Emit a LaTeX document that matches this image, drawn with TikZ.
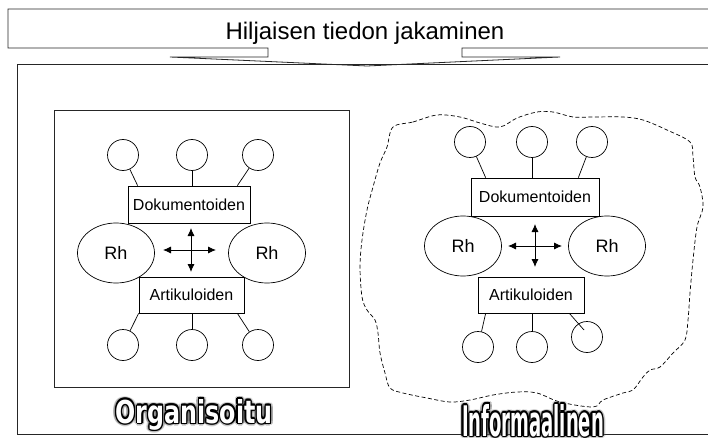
\documentclass[tikz,border=0pt]{standalone}
\usepackage{fontspec}
\usepackage{graphicx}
\setmainfont{Liberation Sans}
\newfontfamily\heavyfont{DejaVu Sans}
\usetikzlibrary{arrows.meta,calc,shapes.geometric}
\newcommand\orgword{\resizebox{157pt}{24pt}{\heavyfont\bfseries Organisoitu}}
\newcommand\infword{\resizebox{142pt}{32pt}{\heavyfont\bfseries Informaalinen}}
\begin{document}
\begin{tikzpicture}[x=1pt,y=-1pt,
  frame/.style={draw=black!85, line width=0.8pt},
  circ/.style={circle, draw, minimum size=31pt, inner sep=0pt, line width=0.7pt},
  lbl/.style={draw, rectangle, inner sep=0pt, line width=0.7pt, font=\fontsize{16}{18}\selectfont},
  rh/.style={ellipse, draw, inner sep=0pt, minimum width=77pt, minimum height=60pt, line width=0.7pt, font=\fontsize{18}{20}\selectfont},
  link/.style={draw, line width=0.7pt},
  xarrow/.style={{Latex[length=8pt,width=7pt]}-{Latex[length=8pt,width=7pt]}, line width=0.8pt},
  cloud/.style={draw, line width=0.7pt, dash pattern=on 4pt off 2.5pt},
  glow/.style={text=black!60, opacity=0.25, inner sep=0pt},
  rim/.style={text=black, inner sep=0pt},
  face/.style={text=white, inner sep=0pt}]
\useasboundingbox (0,0) rectangle (708,438);
\fill[white] (0,0) rectangle (708,438);

% title callout
\draw[frame] (708,9) -- (8,9) -- (8,48) -- (268,48) -- (268,57) -- (170,57) -- (367,66)
  -- (560,57) -- (462,57) -- (462,48) -- (708,48);
\node[anchor=base, font=\fontsize{24}{28}\selectfont] (title) at (365,40) {Hiljaisen tiedon jakaminen};

% main frame
\draw[frame] (708,64) -- (17,64) -- (17,434) -- (708,434);

% ===== left panel =====
\node[frame, rectangle, minimum width=295pt, minimum height=277pt, inner sep=0pt] (orgbox) at (201.5,248.5) {};
\node[circ] (lt1) at (123,155) {};
\node[circ] (lt2) at (192,155) {};
\node[circ] (lt3) at (258,155) {};
\node[lbl, minimum width=122pt, minimum height=37pt] (dok1) at (189,204.5) {Dokumentoiden};
\node[rh] (le1) at (116,253) {Rh};
\node[rh] (le2) at (267,253) {Rh};
\node[lbl, minimum width=105pt, minimum height=36pt] (art1) at (191.5,295) {Artikuloiden};
\node[circ] (lb1) at (123,345) {};
\node[circ] (lb2) at (192,345) {};
\node[circ] (lb3) at (258,345) {};
\draw[link] (lt1) -- ($(dok1.north west)+(10,0)$);
\draw[link] (lt2) -- ($(dok1.north)+(3,0)$);
\draw[link] (lt3) -- ($(dok1.north east)+(-13,0)$);
\draw[link] (art1.south west) -- (lb1);
\draw[link] ($(art1.south)+(0.5,0)$) -- (lb2);
\draw[link] ($(art1.south east)+(-7,0)$) -- (lb3);
\coordinate (lh1) at (163,250);
\coordinate (lh2) at (216,250);
\coordinate (lv1) at (191,228);
\coordinate (lv2) at (191,272);
\draw[xarrow] (lh1) -- (lh2);
\draw[xarrow] (lv1) -- (lv2);

% ===== right panel =====
\draw[cloud] plot[smooth cycle, tension=0.55] coordinates {
 (393,127) (413,122) (437,115) (460,117) (480,123) (500,127) (517,118) (537,112)
 (553,112) (573,117) (593,117) (623,117) (643,120) (667,130) (690,142) (693,157)
 (695,177) (700,187) (703,207) (697,227) (693,260) (690,293) (688,320) (685,340)
 (673,353) (660,367) (650,370) (643,377) (633,390) (623,393) (603,400) (593,407)
 (560,402) (537,393) (517,392) (493,395) (470,400) (450,402) (427,398) (403,393)
 (390,388) (385,373) (380,353) (378,333) (375,320) (367,310) (362,297) (360,267)
 (362,240) (367,210) (373,187) (380,163) (387,147)};
\node[circ] (rt1) at (470,142) {};
\node[circ] (rt2) at (532,142) {};
\node[circ] (rt3) at (592,142) {};
\node[lbl, minimum width=128pt, minimum height=38pt] (dok2) at (535,197) {Dokumentoiden};
\node[rh] (re1) at (463,246) {Rh};
\node[rh] (re2) at (607,246) {Rh};
\node[lbl, minimum width=106pt, minimum height=36pt] (art2) at (531,295) {Artikuloiden};
\node[circ] (rb1) at (478,347) {};
\node[circ] (rb2) at (532,347) {};
\node[circ] (rb3) at (587,337) {};
\draw[link] (rt1) -- ($(dok2.north west)+(15,0)$);
\draw[link] (rt2) -- ($(dok2.north)+(-3,0)$);
\draw[link] (rt3) -- ($(dok2.north east)+(-21,0)$);
\draw[link] ($(art2.south west)+(8,0)$) -- (rb1);
\draw[link] ($(art2.south)+(1,0)$) -- (rb2);
\draw[link] ($(art2.south east)+(-15,0)$) -- ($(rb3.center)+(-3,-7)$);
\coordinate (rh1) at (508,246);
\coordinate (rh2) at (562,246);
\coordinate (rv1) at (535,224);
\coordinate (rv2) at (535,267);
\draw[xarrow] (rh1) -- (rh2);
\draw[xarrow] (rv1) -- (rv2);

% ===== stylised labels =====
\foreach \a in {0,30,...,330} {
  \node[glow, anchor=base] at ($(194,423)+(\a:3)$) {\orgword};
  \node[glow, anchor=base] at ($(533,436)+(\a:3)$) {\infword};
}
\foreach \a in {0,30,...,330} {
  \node[rim, anchor=base] at ($(194,423)+(\a:1.4)$) {\orgword};
  \node[rim, anchor=base] at ($(533,436)+(\a:1.4)$) {\infword};
}
\node[face, anchor=base] (orglabel) at (194,423) {\orgword};
\node[face, anchor=base] (inflabel) at (533,436) {\infword};
\end{tikzpicture}
\end{document}
